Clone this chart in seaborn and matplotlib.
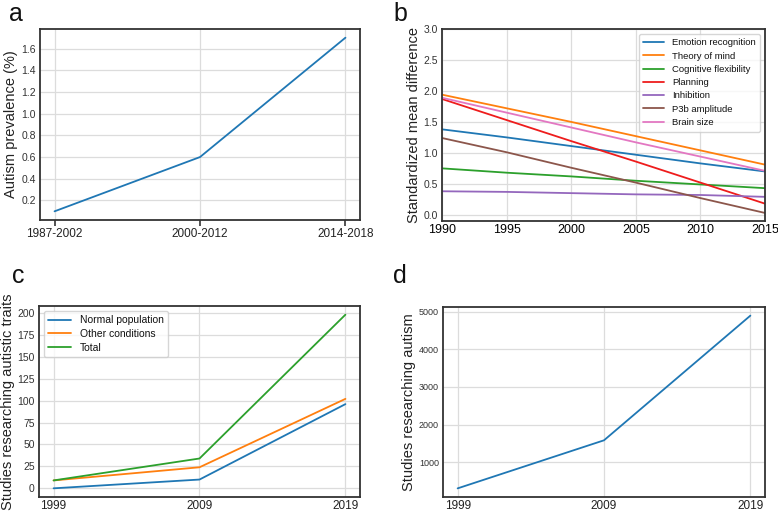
import pandas as pd
import matplotlib
matplotlib.use("Agg")
import matplotlib.pyplot as plt
import seaborn as sns

# panel a
periods = ["1987-2002", "2000-2012", "2014-2018"]
prevalence = [0.1, 0.6, 1.7]

# panel b
b_years = [1990, 1995, 2000, 2005, 2010, 2015]
emotion_recognition = [1.38, 1.25, 1.11, 0.97, 0.83, 0.70]
theory_of_mind = [1.94, 1.72, 1.50, 1.27, 1.04, 0.81]
cognitive_flexibility = [0.75, 0.68, 0.62, 0.55, 0.49, 0.43]
planning = [1.87, 1.53, 1.19, 0.86, 0.52, 0.18]
inhibition = [0.38, 0.37, 0.35, 0.33, 0.32, 0.29]
p3b_amplitude = [1.24, 1.01, 0.76, 0.52, 0.27, 0.03]
brain_size = [1.89, 1.65, 1.41, 1.17, 0.94, 0.71]

# panel c / d
years = [1999, 2009, 2019]
normal_population = [0, 10, 96]
other_conditions = [9, 24, 102]
total = [9, 34, 198]
autism_studies = [300, 1580, 4900]

sns.set_theme(style="whitegrid", rc={
    "axes.edgecolor": "#333333",
    "axes.linewidth": 1.3,
    "grid.color": "#dcdcdc",
    "grid.linewidth": 0.9,
    "xtick.color": "#222222",
    "ytick.color": "#333333",
    "text.color": "#111111",
    "axes.labelcolor": "#222222",
})
plt.rcParams["font.family"] = ["Liberation Sans", "DejaVu Sans"]

fig = plt.figure(figsize=(7.78, 5.11), dpi=100)
W, H = 778, 511


def px_axes(left, top, right, bottom):
    return fig.add_axes([left / W, 1 - bottom / H, (right - left) / W, (bottom - top) / H])


lw = 1.3
label_size = 10.5

# a
ax = px_axes(40, 29, 360, 220)
sns.lineplot(x=periods, y=prevalence, ax=ax, color="#1f77b4", linewidth=lw, sort=False)
ax.set_ylabel("Autism prevalence (%)", fontsize=label_size, labelpad=2)
ax.set_yticks([0.2, 0.4, 0.6, 0.8, 1.0, 1.2, 1.4, 1.6])
ax.tick_params(axis="y", labelsize=7.5, length=0, pad=3)
ax.tick_params(axis="x", labelsize=8.5, bottom=True, length=4, width=1.2,
               color="#333333", pad=2)
fig.text(9 / W, 1 - 21 / H, "a", fontsize=18)

# b
smd = pd.DataFrame({
    "year": b_years * 7,
    "value": emotion_recognition + theory_of_mind + cognitive_flexibility + planning
             + inhibition + p3b_amplitude + brain_size,
    "measure": (["Emotion recognition"] * 6 + ["Theory of mind"] * 6
                + ["Cognitive flexibility"] * 6 + ["Planning"] * 6
                + ["Inhibition"] * 6 + ["P3b amplitude"] * 6 + ["Brain size"] * 6),
})
b_palette = {
    "Emotion recognition": "#1f77b4",
    "Theory of mind": "#ff7f0e",
    "Cognitive flexibility": "#2ca02c",
    "Planning": "#ee1c1c",
    "Inhibition": "#9467bd",
    "P3b amplitude": "#8c564b",
    "Brain size": "#e377c2",
}
ax = px_axes(442, 29, 765, 221)
sns.lineplot(data=smd, x="year", y="value", hue="measure", palette=b_palette,
             ax=ax, linewidth=lw)
ax.set_xlim(1990, 2015)
ax.set_ylim(-0.1, 3.0)
ax.set_xlabel("")
ax.set_ylabel("Standardized mean difference", fontsize=label_size, labelpad=2)
ax.set_yticks([0.0, 0.5, 1.0, 1.5, 2.0, 2.5, 3.0])
ax.tick_params(axis="y", labelsize=7.5, length=0, pad=3)
ax.tick_params(axis="x", labelsize=9, colors="black", length=0, pad=2)
ax.legend(loc="upper right", fontsize=6.8, frameon=True, edgecolor="#cccccc",
          fancybox=True, handlelength=2.2, labelspacing=0.45, borderpad=0.5)
fig.text(393 / W, 1 - 21 / H, "b", fontsize=18)

# c
traits = pd.DataFrame({
    "year": years * 3,
    "count": normal_population + other_conditions + total,
    "group": ["Normal population"] * 3 + ["Other conditions"] * 3 + ["Total"] * 3,
})
ax = px_axes(39, 306, 360, 497)
sns.lineplot(data=traits, x="year", y="count", hue="group",
             palette=["#1f77b4", "#ff7f0e", "#2ca02c"], ax=ax, linewidth=lw)
ax.set_xticks(years)
ax.set_xlabel("")
ax.set_ylabel("Studies researching autistic traits", fontsize=label_size, labelpad=2)
ax.set_yticks(range(0, 201, 25))
ax.tick_params(axis="y", labelsize=7.5, length=0, pad=3)
ax.tick_params(axis="x", labelsize=8.5, length=0, pad=2)
ax.legend(loc="upper left", fontsize=7.5, frameon=True, edgecolor="#cccccc",
          handlelength=2.2, labelspacing=0.35)
fig.text(12 / W, 1 - 283 / H, "c", fontsize=18)

# d
ax = px_axes(443, 307, 765, 497)
sns.lineplot(x=years, y=autism_studies, ax=ax, color="#1f77b4", linewidth=lw)
ax.set_xticks(years)
ax.set_ylabel("Studies researching autism", fontsize=label_size, labelpad=2)
ax.set_yticks([1000, 2000, 3000, 4000, 5000])
ax.tick_params(axis="y", labelsize=6.5, length=0, pad=3)
ax.tick_params(axis="x", labelsize=8.5, length=0, pad=2)
fig.text(393 / W, 1 - 283 / H, "d", fontsize=18)

fig.savefig("out.png", dpi=100)
